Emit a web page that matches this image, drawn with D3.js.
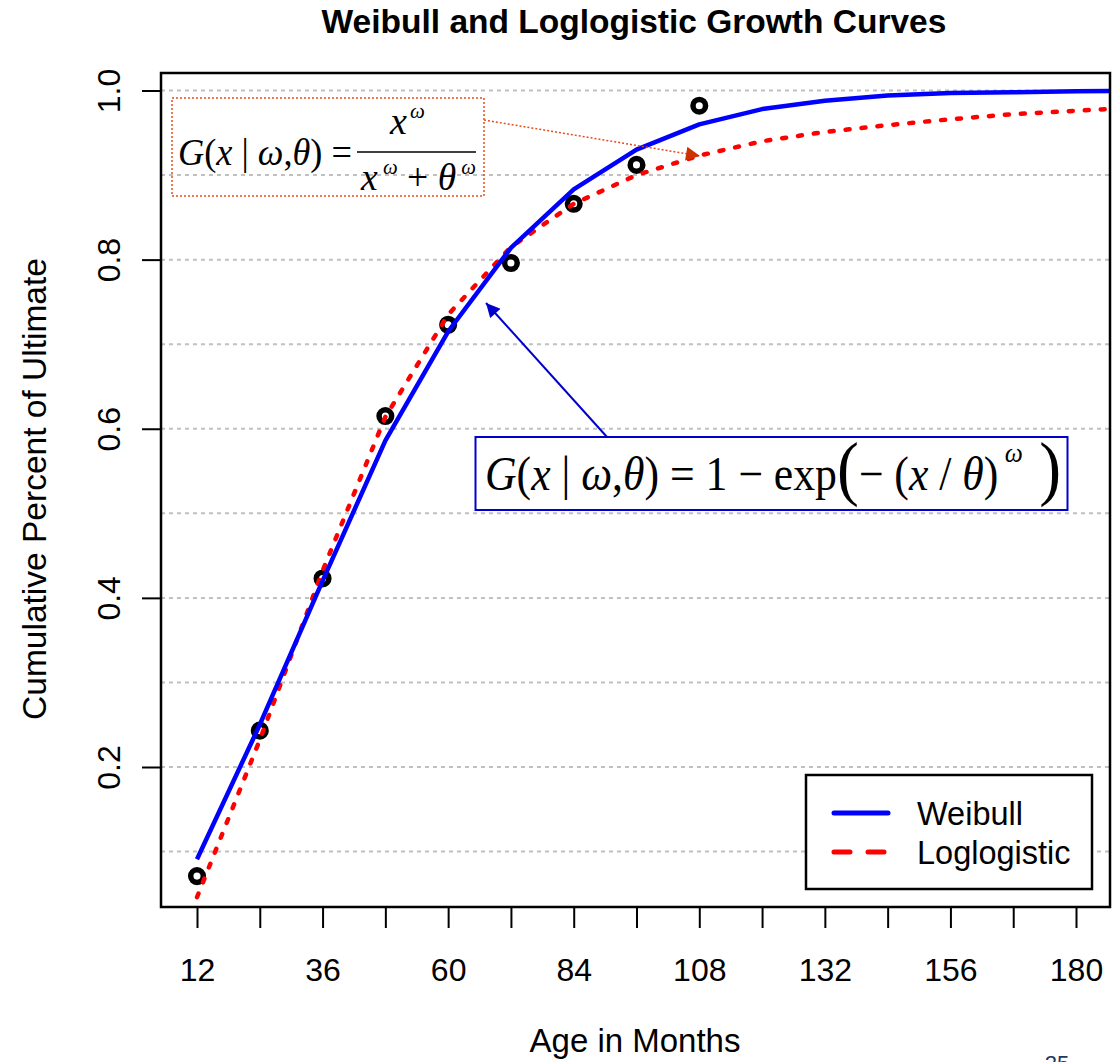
<!DOCTYPE html>
<html>
<head>
<meta charset="utf-8">
<script src="https://cdn.jsdelivr.net/npm/d3@7"></script>
<style>
  body { margin: 0; background: #fff; }
  svg { display: block; }
  text { font-family: "Liberation Sans", Arial, sans-serif; }
  .math { font-family: "Liberation Serif", "Times New Roman", serif; }
</style>
</head>
<body>
<svg id="chart" width="1116" height="1062"></svg>
<script>
'use strict';

// observed development points
var obsMonths = [12, 24, 36, 48, 60, 72, 84, 96, 108];
var observed = [0.071, 0.243, 0.423, 0.615, 0.723, 0.796, 0.866, 0.912, 0.982];

// fitted curves
var curveMonths = [12, 24, 36, 48, 60, 72, 84, 96, 108, 120, 132, 144, 156, 168, 180, 192];
var weibull = [0.091, 0.250, 0.420, 0.586, 0.715, 0.814, 0.883, 0.930, 0.960, 0.978,
  0.988, 0.994, 0.997, 0.998, 0.999, 1.000];
var loglogistic = [0.046, 0.232, 0.432, 0.614, 0.735, 0.815, 0.866, 0.900, 0.923, 0.940,
  0.951, 0.959, 0.966, 0.972, 0.976, 0.980];

var xTicks = [12, 24, 36, 48, 60, 72, 84, 96, 108, 120, 132, 144, 156, 168, 180];
var xLabels = [12, 36, 60, 84, 108, 132, 156, 180];
var yTicks = [0.2, 0.4, 0.6, 0.8, 1.0];
var yGrid = [0.1, 0.2, 0.3, 0.4, 0.5, 0.6, 0.7, 0.8, 0.9, 1.0];

var seriesNames = ['Weibull', 'Loglogistic'];

var box = {left: 161, top: 73, right: 1110, bottom: 907};

var svg = d3.select('#chart');
var x = d3.scaleLinear().domain([12, 180]).range([197, 1076]);
var y = d3.scaleLinear().domain([0.2, 1.0]).range([767, 90.5]);

svg.append('defs').append('clipPath').attr('id', 'plotClip')
  .append('rect')
  .attr('x', box.left).attr('y', box.top)
  .attr('width', box.right - box.left).attr('height', box.bottom - box.top);

// gridlines
svg.append('g').selectAll('line').data(yGrid).enter().append('line')
  .attr('x1', box.left).attr('x2', box.right)
  .attr('y1', function (d) { return y(d); })
  .attr('y2', function (d) { return y(d); })
  .attr('stroke', '#c0c0c0').attr('stroke-width', 2)
  .attr('stroke-dasharray', '4,4');

// observed points
svg.append('g').selectAll('circle').data(obsMonths).enter().append('circle')
  .attr('cx', function (d) { return x(d); })
  .attr('cy', function (d, i) { return y(observed[i]); })
  .attr('r', 6.3)
  .attr('fill', '#fff').attr('stroke', '#000').attr('stroke-width', 5.5);

var line = d3.line()
  .x(function (d) { return x(d[0]); })
  .y(function (d) { return y(d[1]); });

var plot = svg.append('g').attr('clip-path', 'url(#plotClip)');

plot.append('path')
  .datum(d3.zip(curveMonths, loglogistic))
  .attr('d', line)
  .attr('fill', 'none').attr('stroke', '#ff0000').attr('stroke-width', 4.5)
  .attr('stroke-linecap', 'round').attr('stroke-dasharray', '4,12');

plot.append('path')
  .datum(d3.zip(curveMonths, weibull))
  .attr('d', line)
  .attr('fill', 'none').attr('stroke', '#0000ff').attr('stroke-width', 4.5)
  .attr('stroke-linejoin', 'round');

// frame
svg.append('rect')
  .attr('x', box.left).attr('y', box.top)
  .attr('width', box.right - box.left).attr('height', box.bottom - box.top)
  .attr('fill', 'none').attr('stroke', '#000').attr('stroke-width', 2.5);

// x axis
var xAxis = d3.axisBottom(x).tickValues(xTicks).tickSize(21).tickPadding(30)
  .tickFormat(function (d) { return xLabels.indexOf(d) >= 0 ? d : ''; });
var gx = svg.append('g').attr('transform', 'translate(0,' + box.bottom + ')').call(xAxis);
gx.select('.domain').remove();
gx.selectAll('.tick line').attr('stroke', '#000').attr('stroke-width', 2);
gx.selectAll('.tick text').attr('font-size', 32).attr('fill', '#000')
  .attr('font-family', '"Liberation Sans", Arial, sans-serif');

// y axis
var yAxis = d3.axisLeft(y).tickValues(yTicks).tickSize(19)
  .tickFormat(d3.format('.1f'));
var gy = svg.append('g').attr('transform', 'translate(' + box.left + ',0)').call(yAxis);
gy.select('.domain').remove();
gy.selectAll('.tick line').attr('stroke', '#000').attr('stroke-width', 2);
gy.selectAll('.tick text').attr('font-size', 32).attr('fill', '#000')
  .attr('font-family', '"Liberation Sans", Arial, sans-serif')
  .attr('x', null).attr('dy', null)
  .attr('text-anchor', 'middle')
  .attr('transform', 'translate(-41,0) rotate(-90)');

// titles
svg.append('text').attr('x', 634).attr('y', 33).attr('text-anchor', 'middle')
  .attr('font-size', 33.5).attr('font-weight', 'bold')
  .text('Weibull and Loglogistic Growth Curves');
svg.append('text').attr('x', 635).attr('y', 1052).attr('text-anchor', 'middle')
  .attr('font-size', 33).text('Age in Months');
svg.append('text').attr('transform', 'translate(46,489) rotate(-90)')
  .attr('text-anchor', 'middle').attr('font-size', 33.5)
  .text('Cumulative Percent of Ultimate');

// arrows
var defs = svg.select('defs');
function marker(id, color) {
  defs.append('marker').attr('id', id)
    .attr('viewBox', '0 0 10 10').attr('refX', 10).attr('refY', 5)
    .attr('markerUnits', 'userSpaceOnUse')
    .attr('markerWidth', 16).attr('markerHeight', 14)
    .attr('orient', 'auto')
    .append('path').attr('d', 'M0,0 L10,5 L0,10 Z').attr('fill', color);
}
marker('arrRed', '#cc3300');
marker('arrBlue', '#0000cc');

// loglogistic formula box
svg.append('rect').attr('x', 172).attr('y', 98).attr('width', 312).attr('height', 98)
  .attr('fill', 'none').attr('stroke', '#e0501e').attr('stroke-width', 1.5)
  .attr('stroke-dasharray', '2,2');
svg.append('line').attr('x1', 484).attr('y1', 120).attr('x2', 700).attr('y2', 156)
  .attr('stroke', '#e0501e').attr('stroke-width', 1.5).attr('stroke-dasharray', '2,2')
  .attr('marker-end', 'url(#arrRed)');

var f1 = svg.append('text').attr('class', 'math').attr('x', 178).attr('y', 165)
  .attr('font-size', 38).attr('textLength', 174).attr('lengthAdjust', 'spacingAndGlyphs');
f1.append('tspan').attr('font-style', 'italic').text('G');
f1.append('tspan').text('(');
f1.append('tspan').attr('font-style', 'italic').text('x');
f1.append('tspan').text(' | ');
f1.append('tspan').attr('font-style', 'italic').text('ω');
f1.append('tspan').text(',');
f1.append('tspan').attr('font-style', 'italic').text('θ');
f1.append('tspan').text(') =');

var num = svg.append('text').attr('class', 'math').attr('x', 390).attr('y', 134)
  .attr('font-size', 38);
num.append('tspan').attr('font-style', 'italic').text('x');
num.append('tspan').attr('font-style', 'italic').attr('font-size', 21).attr('dy', -16)
  .attr('dx', 3).text('ω');
svg.append('line').attr('x1', 357).attr('x2', 476).attr('y1', 152).attr('y2', 152)
  .attr('stroke', '#000').attr('stroke-width', 1.5);
var den = svg.append('text').attr('class', 'math').attr('x', 361).attr('y', 190)
  .attr('font-size', 38).attr('textLength', 115).attr('lengthAdjust', 'spacingAndGlyphs');
den.append('tspan').attr('font-style', 'italic').text('x');
den.append('tspan').attr('font-style', 'italic').attr('font-size', 21).attr('dy', -16).text(' ω');
den.append('tspan').attr('dy', 16).text(' + ');
den.append('tspan').attr('font-style', 'italic').text('θ');
den.append('tspan').attr('font-style', 'italic').attr('font-size', 21).attr('dy', -16).text(' ω');

// weibull formula box
svg.append('line').attr('x1', 607).attr('y1', 437).attr('x2', 486).attr('y2', 303)
  .attr('stroke', '#0000cc').attr('stroke-width', 2)
  .attr('marker-end', 'url(#arrBlue)');
svg.append('rect').attr('x', 475.5).attr('y', 437).attr('width', 592).attr('height', 73)
  .attr('fill', 'none').attr('stroke', '#0000cc').attr('stroke-width', 2);

var f2 = svg.append('text').attr('class', 'math').attr('x', 485).attr('y', 490)
  .attr('font-size', 48).attr('textLength', 576).attr('lengthAdjust', 'spacingAndGlyphs');
f2.append('tspan').attr('font-style', 'italic').text('G');
f2.append('tspan').text('(');
f2.append('tspan').attr('font-style', 'italic').text('x');
f2.append('tspan').text(' | ');
f2.append('tspan').attr('font-style', 'italic').text('ω');
f2.append('tspan').text(',');
f2.append('tspan').attr('font-style', 'italic').text('θ');
f2.append('tspan').text(') = 1 − exp');
f2.append('tspan').attr('font-size', 72).attr('dy', 2).text('(');
f2.append('tspan').attr('dy', -2).text('− (');
f2.append('tspan').attr('font-style', 'italic').text('x');
f2.append('tspan').text(' / ');
f2.append('tspan').attr('font-style', 'italic').text('θ');
f2.append('tspan').text(')');
f2.append('tspan').attr('font-style', 'italic').attr('font-size', 28).attr('dy', -28)
  .text(' ω');
f2.append('tspan').attr('font-size', 72).attr('dy', 30).text(' )');

// legend
var lg = svg.append('g');
lg.append('rect').attr('x', 806).attr('y', 775).attr('width', 286).attr('height', 114)
  .attr('fill', '#fff').attr('stroke', '#000').attr('stroke-width', 2.5);
var legendRows = lg.selectAll('g.row').data(seriesNames).enter().append('g')
  .attr('class', 'row')
  .attr('transform', function (d, i) { return 'translate(0,' + (813 + i * 39) + ')'; });
legendRows.append('line')
  .attr('x1', 834).attr('x2', 888).attr('y1', 0).attr('y2', 0)
  .attr('stroke', function (d, i) { return i === 0 ? '#0000ff' : '#ff0000'; })
  .attr('stroke-width', 5).attr('stroke-linecap', 'round')
  .attr('stroke-dasharray', function (d, i) { return i === 0 ? null : '16,18'; });
legendRows.append('text').attr('x', 917).attr('y', 0).attr('dy', '0.36em')
  .attr('font-size', 32.5).text(function (d) { return d; });

// page number
svg.append('text').attr('x', 1057).attr('y', 1071).attr('text-anchor', 'middle')
  .attr('font-size', 22).attr('fill', '#203864').text('25');
</script>
</body>
</html>
